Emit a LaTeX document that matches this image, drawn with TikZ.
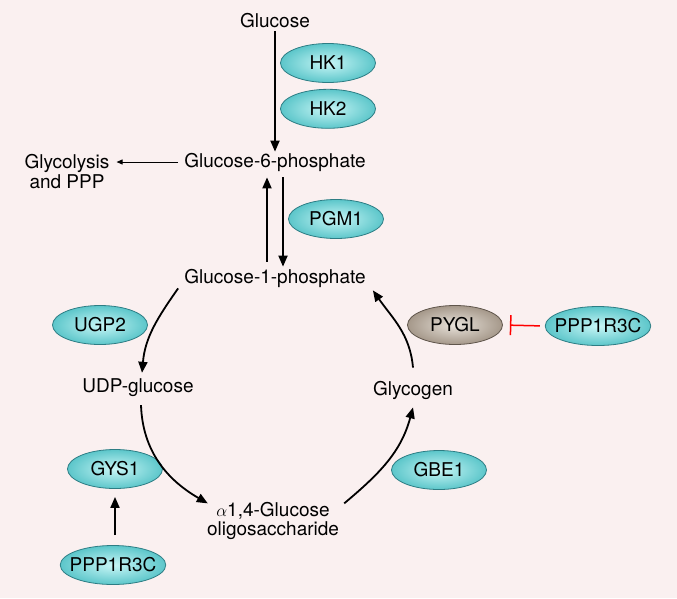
\documentclass[tikz,border=0pt]{standalone}
\usepackage{fontspec}
\setmainfont{TeX Gyre Heros}
\usetikzlibrary{shapes.geometric}
\usetikzlibrary{positioning}
\usetikzlibrary{arrows.meta}
\definecolor{bgpink}{RGB}{250,240,240}
\definecolor{enztop}{RGB}{200,246,246}
\definecolor{enzbot}{RGB}{92,198,202}
\definecolor{enzline}{RGB}{45,125,132}
\definecolor{pygtop}{RGB}{232,226,218}
\definecolor{pygbot}{RGB}{165,152,138}
\definecolor{pygline}{RGB}{95,85,75}
\tikzset{metab/.style={inner sep=1pt, align=center, font=\fontsize{19}{20}\selectfont},
enzyme/.style={ellipse, draw=enzline, line width=0.8pt, inner color=enztop, outer color=enzbot,
minimum width=95pt, minimum height=39pt, inner xsep=-6pt, inner ysep=0pt,
font=\fontsize{19}{20}\selectfont},
rxn/.style={line width=1.8pt, -{Triangle[length=11pt,width=9pt]}}}

\begin{document}
\begin{tikzpicture}[x=1pt, y=1pt]
					\useasboundingbox (0,0) rectangle (677,-598);
					\fill[bgpink] (0,0) rectangle (677,-598);
					% metabolites
					\node[metab] (glc) at (275,-21) {Glucose};
					\node[metab] (g6p) at (275,-162) {Glucose-6-phosphate};
					\node[metab, font=\fontsize{19}{20}\selectfont] (glyco) at (67,-172) {Glycolysis\\and PPP};
					\node[metab] (g1p) at (275,-278) {Glucose-1-phosphate};
					\node[metab] (udp) at (138,-388) {UDP-glucose};
					\node[metab] (glyc) at (413,-390) {Glycogen};
					\node[metab, font=\fontsize{19}{18.5}\selectfont] (oligo) at (273,-521) {$\alpha$1,4-Glucose\\oligosaccharide};
					% enzymes
					\node[enzyme] (hk1) at (328,-63) {HK1};
					\node[enzyme, below=6pt of hk1] (hk2) {HK2};
					\node[enzyme] (pgm1) at (336,-219) {PGM1};
					\node[enzyme] (ugp2) at (100,-325) {UGP2};
					\node[enzyme, draw=pygline, inner color=pygtop, outer color=pygbot] (pygl) at (455,-325) {PYGL};
					\node[enzyme] (pppa) at (598,-326) {PPP1R3C};
					\node[enzyme] (gys1) at (115,-469) {GYS1};
					\node[enzyme] (gbe1) at (439,-470) {GBE1};
					\node[enzyme] (pppb) at (113,-565) {PPP1R3C};
					% reactions
					\draw[rxn, shorten <=2pt] (glc.south) -- (g6p.north);
					\draw[line width=0.9pt, -{Triangle[length=6pt,width=5pt]}, shorten <=5pt, shorten >=6pt] (g6p.west) -- (g6p.west -| glyco.east);
					\draw[rxn, shorten <=6pt, shorten >=5pt] ([xshift=-8pt]g1p.north) -- ([xshift=-8pt]g6p.south);
					\draw[rxn, shorten <=5pt, shorten >=1pt] ([xshift=8pt]g6p.south) -- ([xshift=8pt]g1p.north);
					\draw[rxn] ([xshift=-5pt]g1p.south west) to[out=235,in=85] ([shift={(4pt,5pt)}]udp.north);
					\draw[rxn] ([shift={(3pt,-7pt)}]udp.south) to[out=-88,in=150] ([shift={(2pt,-2pt)}]oligo.north west);
					\draw[rxn] ([shift={(4pt,-2pt)}]oligo.north east) to[out=40,in=-105] ([yshift=-7pt]glyc.south);
					\draw[rxn] ([yshift=12pt]glyc.north) to[out=95,in=-55] ([shift={(6pt,-2pt)}]g1p.south east);
					\draw[rxn, shorten <=10pt, shorten >=8pt] (gys1.south |- pppb.north) -- (gys1.south);
					\draw[red, line width=1.5pt, -{Bar[width=20pt]}, shorten <=5pt, shorten >=7pt] (pppa.west) -- (pygl.east);
			\end{tikzpicture}
\end{document}
